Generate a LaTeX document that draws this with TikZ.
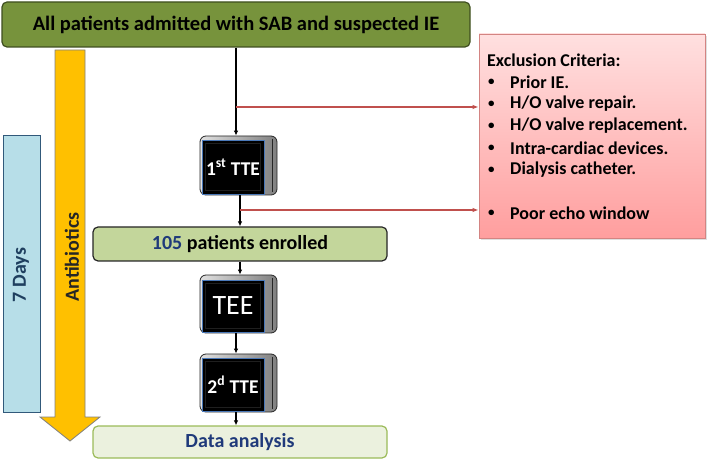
\documentclass[tikz,border=0pt]{standalone}
\usepackage{fontspec}
\setmainfont{Carlito}
\usetikzlibrary{arrows.meta}
\definecolor{topgreen}{HTML}{77933C}
\definecolor{topline}{HTML}{3F4F20}
\definecolor{midgreen}{HTML}{C3D69B}
\definecolor{palegreen}{HTML}{EBF1DE}
\definecolor{paleline}{HTML}{9BBB59}
\definecolor{navytext}{HTML}{1F3A7A}
\definecolor{daysfill}{HTML}{B7DEE8}
\definecolor{daysline}{HTML}{31597A}
\definecolor{daystext}{HTML}{1F3F5F}
\definecolor{abfill}{HTML}{FFC000}
\definecolor{exred}{HTML}{C0504D}
\definecolor{pinktop}{HTML}{FFE0E0}
\definecolor{pinkbot}{HTML}{FF9E9E}
\definecolor{inblue}{HTML}{4A78B8}
\begin{document}
\begin{tikzpicture}[x=1pt,y=-1pt,
  flowbox/.style={rounded corners=5pt, line width=1.2pt, inner sep=0pt},
  bevel/.style={rounded corners=6pt, inner sep=0pt, draw=black!85, line width=0.8pt,
     left color=black!12, right color=black!50, minimum width=77pt},
  blackin/.style={fill=black, draw=inblue, line width=0.6pt, inner sep=0pt, text=white,
     minimum width=62pt},
  innerline/.style={draw=black!88!white, line width=0.5pt},
  flowarrow/.style={line width=1.1pt, -{Latex[length=5pt,width=4.5pt]}},
  redarrow/.style={exred, line width=1.2pt, -{Latex[length=6pt,width=4.5pt]}},
  exitem/.style={anchor=west, inner sep=0pt, font=\bfseries\fontsize{18}{20}\selectfont},
  exbul/.style={anchor=west, inner sep=0pt, font=\bfseries\fontsize{13}{15}\selectfont}
]
\useasboundingbox (0,0) rectangle (707,462);

% top box
\node[flowbox, fill=topgreen, draw=topline, minimum width=468pt, minimum height=45pt,
      font=\bfseries\fontsize{20.5}{23}\selectfont] (top) at (236,24.5)
      {All patients admitted with SAB and suspected IE};

% 7 days box
\node[draw=daysline, fill=daysfill, line width=1pt, minimum width=37pt, minimum height=276pt,
      inner sep=0pt] (days) at (21.5,274) {};
\node[rotate=90, text=daystext, font=\bfseries\fontsize{20}{22}\selectfont] (daystxt) at (21,275) {7 Days};

% antibiotics arrow
\draw[fill=abfill, draw=black!50, line width=0.8pt]
  (55,50) -- (85,50) -- (85,417) -- (100,417) -- (70,441) -- (40,417) -- (55,417) -- cycle;
\node[rotate=90, font=\bfseries\fontsize{20}{22}\selectfont, text=black!85] (abtxt) at (72,257) {Antibiotics};

% 1st TTE
\node[bevel, minimum height=59pt] (tte1) at (238.5,165.5) {};
\draw[black!85, line width=0.6pt] ([xshift=-5pt,yshift=-3pt]tte1.north east) -- ([xshift=-5pt,yshift=3pt]tte1.south east);
\node[blackin, minimum height=54pt] (tte1in) at (233,167) {};
\draw[innerline] ([shift={(4,4)}]tte1in.north west) rectangle ([shift={(-4,-4)}]tte1in.south east);
\node[text=white, font=\bfseries\fontsize{19.5}{22}\selectfont, inner sep=0pt] (tte1t) at (tte1in) {1\textsuperscript{st} TTE};

% 105 box
\node[flowbox, fill=midgreen, draw=black!85, minimum width=294pt, minimum height=34pt,
      font=\bfseries\fontsize{20}{22}\selectfont] (enrol) at (240,244)
      {\textcolor{navytext}{105} patients enrolled};

% TEE
\node[bevel, minimum height=58pt] (tee) at (238.5,304) {};
\draw[black!85, line width=0.6pt] ([xshift=-5pt,yshift=-3pt]tee.north east) -- ([xshift=-5pt,yshift=3pt]tee.south east);
\node[blackin, minimum height=52pt] (teein) at (233,306) {};
\draw[innerline] ([shift={(4,4)}]teein.north west) rectangle ([shift={(-4,-4)}]teein.south east);
\node[text=white, font=\fontsize{28}{30}\selectfont, inner sep=0pt] (teet) at (teein) {TEE};

% 2nd TTE
\node[bevel, minimum height=58pt] (tte2) at (238.5,383) {};
\draw[black!85, line width=0.6pt] ([xshift=-5pt,yshift=-3pt]tte2.north east) -- ([xshift=-5pt,yshift=3pt]tte2.south east);
\node[blackin, minimum height=53pt] (tte2in) at (233,384.5) {};
\draw[innerline] ([shift={(4,4)}]tte2in.north west) rectangle ([shift={(-4,-4)}]tte2in.south east);
\node[text=white, font=\bfseries\fontsize{19.5}{22}\selectfont, inner sep=0pt] (tte2t) at (tte2in) {2\textsuperscript{d} TTE};

% data analysis
\node[flowbox, fill=palegreen, draw=paleline, minimum width=294pt, minimum height=32pt,
      text=navytext, font=\bfseries\fontsize{20}{22}\selectfont] (data) at (240,442)
      {Data analysis};

% exclusion box
\fill[black!25, opacity=0.5] (481,36) rectangle (707,240);
\node[draw=exred!70, line width=0.8pt, top color=pinktop, bottom color=pinkbot,
      minimum width=226pt, minimum height=204pt, inner sep=0pt] (excl) at (592,136) {};
\node[exitem] (exh) at (487,60) {Exclusion Criteria:};
\foreach \yy/\txt [count=\i] in {82/{Prior IE.}, 104/{H/O valve repair.}, 126/{H/O valve replacement.},
    148/{Intra-cardiac devices.}, 170/{Dialysis catheter.}, 213/{Poor echo window}}{
  \node[exbul] (exb\i) at (488,\yy) {\textbullet};
  \node[exitem] (ext\i) at (510,\yy) {\txt};
}

% connectors
\coordinate (b1) at (236,107);
\coordinate (b2) at (240,210);
\draw[line width=1.1pt] (top.south -| b1) -- (b1);
\draw[flowarrow] (b1) -- (tte1.north -| b1);
\draw[redarrow] (b1) -- (excl.west |- b1);
\draw[line width=1.1pt] (tte1.south -| b2) -- (b2);
\draw[flowarrow] (b2) -- (enrol.north -| b2);
\draw[redarrow] (b2) -- (excl.west |- b2);
\draw[flowarrow] (enrol.south -| b2) -- (tee.north -| b2);
\draw[flowarrow] (tee.south -| b1) -- (tte2.north -| b1);
\draw[flowarrow] (tte2.south -| b1) -- (data.north -| b1);
\end{tikzpicture}
\end{document}
